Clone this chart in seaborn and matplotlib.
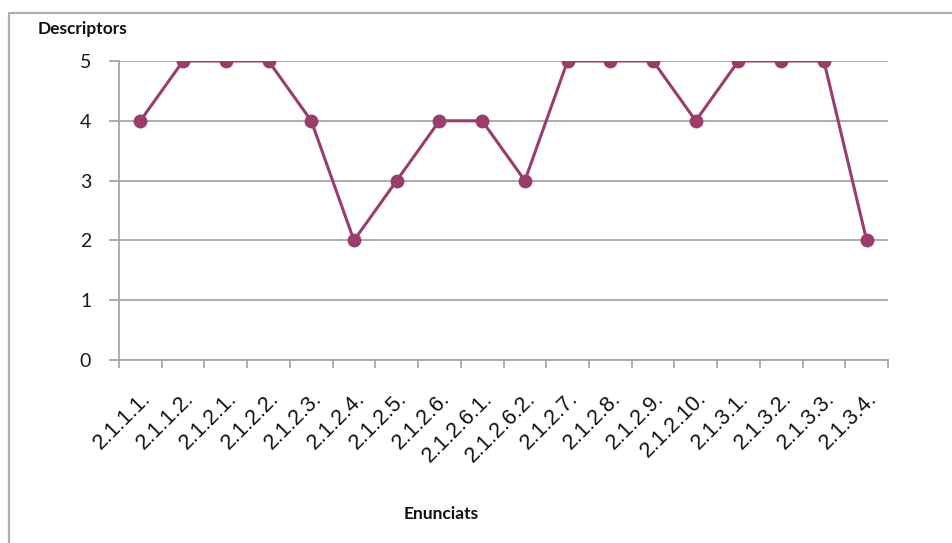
import matplotlib
matplotlib.use("Agg")
import matplotlib.pyplot as plt
from matplotlib.lines import Line2D
from matplotlib.ticker import FixedLocator
import seaborn as sns
import pandas as pd

# Statement codes and their descriptor scores
enunciats = ["2.1.1.1.", "2.1.1.2.", "2.1.2.1.", "2.1.2.2.", "2.1.2.3.", "2.1.2.4.",
             "2.1.2.5.", "2.1.2.6.", "2.1.2.6.1.", "2.1.2.6.2.", "2.1.2.7.", "2.1.2.8.",
             "2.1.2.9.", "2.1.2.10.", "2.1.3.1.", "2.1.3.2.", "2.1.3.3.", "2.1.3.4."]
descriptors = [4, 5, 5, 5, 4, 2, 3, 4, 4, 3, 5, 5, 5, 4, 5, 5, 5, 2]
y_ticks = [0, 1, 2, 3, 4, 5]

df = pd.DataFrame({"Enunciats": enunciats, "Descriptors": descriptors})
df["pos"] = range(len(df))

sns.set_style("white")
plt.rcParams["font.family"] = ["Liberation Sans", "DejaVu Sans"]

fig = plt.figure(figsize=(9.52, 5.43), dpi=100)
ax = fig.add_axes([119 / 952, 1 - 360 / 543, (888 - 119) / 952, (360 - 61) / 543])

line_color = "#9b3d6c"
grid_color = "#a6a6a6"

sns.lineplot(data=df, x="pos", y="Descriptors", ax=ax, color=line_color,
             linewidth=2.2, marker="o", markersize=10, markeredgewidth=0,
             zorder=3)

n = len(enunciats)
ax.set_xlim(-0.5, n - 0.5)
ax.set_ylim(0, 5)

# horizontal gridlines
ax.set_yticks(y_ticks)
ax.yaxis.grid(True, color=grid_color, linewidth=1.3)
ax.xaxis.grid(False)
ax.set_axisbelow(True)

for side in ["top", "right"]:
    ax.spines[side].set_visible(False)
ax.spines["left"].set_color(grid_color)
ax.spines["left"].set_linewidth(1.3)
ax.spines["bottom"].set_color(grid_color)
ax.spines["bottom"].set_linewidth(1.3)

ax.tick_params(axis="y", length=7, width=1.3, color=grid_color, pad=13,
               labelsize=14, labelcolor="#1a1a1a", left=True)
for lab in ax.get_yticklabels():
    lab.set_fontfamily(["Lato", "DejaVu Sans"])

# category labels at centers, tick marks at category boundaries
ax.set_xticks(df["pos"])
ax.set_xticklabels(enunciats, rotation=45, ha="right", rotation_mode="anchor",
                   fontsize=15.5, color="#111111")
ax.tick_params(axis="x", which="major", length=0, pad=20)
ax.xaxis.set_minor_locator(FixedLocator([i - 0.5 for i in range(n + 1)]))
ax.tick_params(axis="x", which="minor", length=6, width=1.3, color=grid_color,
               bottom=True)

ax.set_xlabel("")
ax.set_ylabel("")

fig.text(38 / 952, 1 - 29 / 543, "Descriptors", fontsize=12.5, fontweight="bold",
         family=["Lato", "DejaVu Sans"], ha="left", va="center", color="#111111")
fig.text(441 / 952, 1 - 514 / 543, "Enunciats", fontsize=12.5, fontweight="bold",
         family=["Lato", "DejaVu Sans"], ha="center", va="center", color="#111111")

# chart frame (top and left edges)
border = "#b0b0b0"
fig.add_artist(Line2D([9 / 952, 1.0], [1 - 13 / 543, 1 - 13 / 543],
                      transform=fig.transFigure, color=border, linewidth=1.6))
fig.add_artist(Line2D([9 / 952, 9 / 952], [0.0, 1 - 13 / 543],
                      transform=fig.transFigure, color=border, linewidth=1.6))

fig.savefig("out.png", dpi=100, facecolor="white")
